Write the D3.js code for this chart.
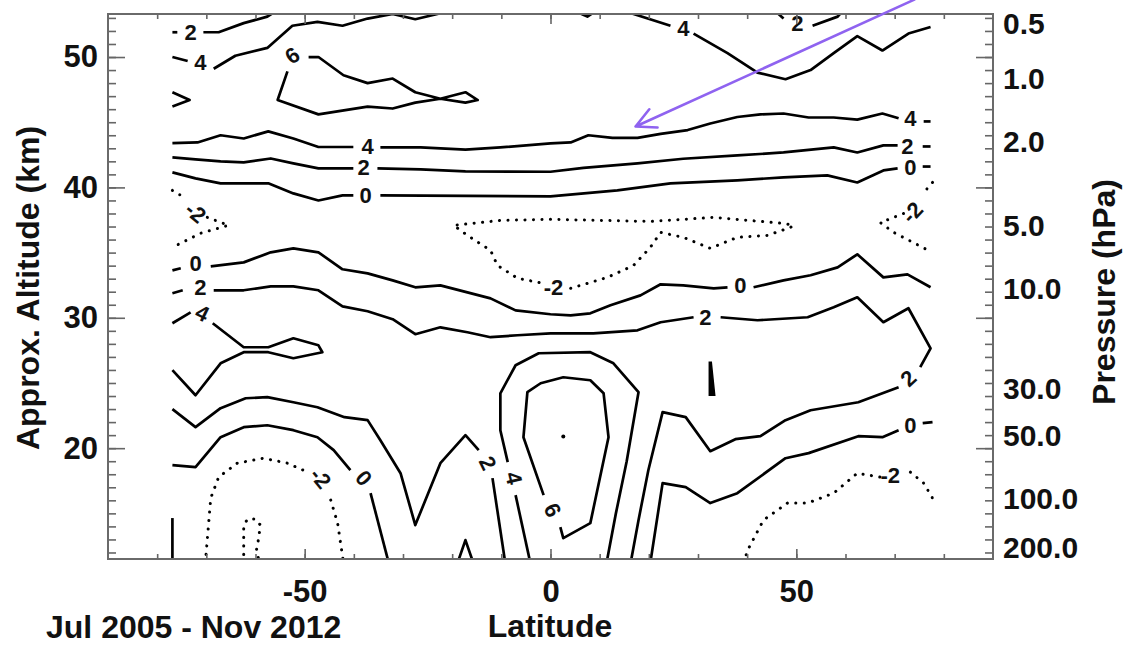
<!DOCTYPE html>
<html><head>
<meta charset="utf-8">
<title>Zonal mean contours, Jul 2005 - Nov 2012</title>
<script src="https://d3js.org/d3.v7.min.js"></script>
<style>
  body { margin: 0; background: #fff; }
  text { font-family: "Liberation Sans", Arial, sans-serif; font-weight: bold; fill: #111; }
</style>
</head>
<body>
<svg id="chart" width="1123" height="647"></svg>
<script>

// axis ticks
let altTicks = [20, 30, 40, 50];
let latTicks = [-50, 0, 50];
let pressureTicks = [0.5, 1.0, 2.0, 5.0, 10.0, 30.0, 50.0, 100.0, 200.0];

// contour lines as [lat, km]; each inner array is one piece, pieces break where a label sits
let c2Top = [
  [[-76.9,51.9],[-75.9,51.9]],
  [[-70.6,51.9],[-67.5,51.9],[-62.4,52.6],[-57.6,53.1],[-55.5,53.6]],
  [[45.5,53.6],[47.4,52.95]],
  [[53.3,52.4],[58.4,53.1],[59.6,53.6]]
];
let c2TopLabels = [[-73.2,51.9],[50.2,52.6]];

let c4Top = [
  [[-76.9,50.0],[-73.8,49.7]],
  [[-68.5,49.1],[-64.1,50.1],[-57.6,50.7],[-52.5,52.4],[-47.4,52.7],[-42.3,52.4],[-37.2,52.95],[-32.1,53.3],[-27.5,52.9],[-23.0,53.3],[-21.5,53.6]],
  [[4.5,53.6],[7.5,53.1],[9.5,53.6]],
  [[15.5,53.6],[16.9,53.3],[24.4,52.4]],
  [[29.1,51.8],[36.0,50.3],[42.1,48.8],[47.8,48.3],[52.9,49.0],[57.6,50.3],[62.4,51.6],[67.5,50.5],[72.8,51.8],[77.3,52.3]]
];
let c4TopLabels = [[-71.2,49.6],[27.0,52.2]];

let c6Top = [
  [[-49.2,50.0],[-47.2,50.0],[-42.1,48.6],[-37.2,48.0],[-32.1,48.35],[-27.5,47.3],[-22.4,46.8],[-17.3,47.3],[-14.8,46.7],[-17.3,46.5],[-22.4,46.8],[-27.5,46.5],[-32.1,46.05],[-37.2,46.2],[-47.2,45.6],[-55.5,46.7],[-53.5,48.9]]
];
let c6TopLabels = [[-52.5,50.1]];

let c6Edge = [[[-76.9,47.3],[-73.4,46.7],[-76.9,46.2]]];

let c4Mid = [
  [[-76.9,43.4],[-71.8,43.45],[-67.1,44.0],[-62.4,43.75],[-57.4,44.3],[-52.3,43.75],[-47.2,43.1],[-40.1,43.1]],
  [[-34.6,43.07],[-26.4,43.07],[-17.3,42.9],[-10.2,43.07],[0,43.37],[4.1,43.45],[7.7,44.0],[12.6,43.8],[17.7,43.8],[22.4,44.1],[27.9,44.4],[32.5,44.9],[38.0,45.4],[42.7,45.6],[47.4,45.67],[52.5,45.36],[57.6,45.36],[62.4,45.2],[67.5,45.67],[70.8,45.3]],
  [[75.9,45.06],[77.3,45.06]]
];
let c4MidLabels = [[-37.2,43.14],[73.2,45.29]];

let c2Mid = [
  [[-76.9,42.3],[-72.2,42.15],[-67.1,41.99],[-62.4,41.92],[-56.9,42.22],[-52.3,41.84],[-47.2,41.46],[-40.1,41.46]],
  [[-35.2,41.46],[-26.4,41.38],[-17.3,41.23],[0,41.2],[6.7,41.5],[17.7,41.84],[27.0,42.2],[38.0,42.45],[47.4,42.68],[57.6,43.07],[62.4,42.68],[67.7,43.22],[70.6,43.22]],
  [[75.7,43.14],[77.3,43.14]]
];
let c2MidLabels = [[-38.0,41.53],[72.6,43.14]];

let c0Mid = [
  [[-76.9,41.15],[-72.2,40.69],[-67.1,40.31],[-57.4,40.31],[-52.3,39.54],[-47.2,39.0],[-42.3,39.39],[-40.1,39.39]],
  [[-34.6,39.39],[0,39.31],[13.6,39.77],[24.4,40.31],[38.0,40.54],[47.4,40.77],[56.3,40.92],[62.4,40.38],[67.7,41.3],[70.6,41.46]],
  [[75.7,41.6],[77.3,41.6]]
];
let c0MidLabels = [[-37.6,39.39],[73.2,41.53]];

let cm2UpperLeft = [
  [[-76.9,39.77],[-75.2,39.39]],
  [[-69.8,37.7],[-65.5,37.09],[-71.2,36.48],[-76.9,35.4]]
];
let cm2UpperLeftLabels = [[-72.2,38.08]];

let cm2UpperRight = [
  [[77.7,40.38],[76.3,39.77]],
  [[71.8,38.0],[67.1,37.3],[69.8,36.55],[76.7,35.2]]
];
let cm2UpperRightLabels = [[73.6,38.08]];

let cm2Center = [
  [[4.1,32.26],[11.6,33.1],[16.9,34.02],[20.3,35.4],[22.4,36.55],[27.0,36.17],[32.5,35.33],[38.0,36.17],[44.1,36.32],[48.8,36.93],[49.4,37.09],[47.4,37.24],[33.2,37.7],[20.3,37.39],[0,37.55],[-10.2,37.47],[-19.7,37.09],[-16.9,36.32],[-12.2,35.17],[-10.8,34.02],[-6.7,33.03],[-1.4,32.64]]
];
let cm2CenterLabels = [[0.6,32.34]];

let c0Low = [
  [[-76.9,33.64],[-75.2,33.8]],
  [[-69.1,33.95],[-62.4,34.25],[-56.9,35.02],[-52.3,35.33],[-47.2,35.02],[-42.3,33.72],[-37.2,33.41],[-32.1,32.87],[-27.5,32.34],[-22.4,32.49],[-16.9,31.95],[-12.2,31.49],[-7.1,30.57],[0,30.27],[4.1,30.19],[8.1,30.34],[12.2,30.96],[18.3,31.72],[22.4,32.57],[27.0,32.49],[33.2,32.26],[36.0,32.34]],
  [[41.3,32.34],[47.4,32.87],[52.9,33.26],[58.4,33.87],[62.4,34.87],[67.7,33.1],[72.6,33.33],[77.3,32.34]]
];
let c0LowLabels = [[-72.2,34.18],[38.6,32.49]];

let c2Low = [
  [[-76.9,31.88],[-74.8,32.11]],
  [[-68.5,32.11],[-62.4,32.11],[-56.9,32.41],[-52.3,32.41],[-47.2,32.11],[-42.3,30.88],[-37.2,30.5],[-32.1,29.89],[-27.5,28.74],[-22.4,29.27],[-16.9,28.89],[-12.2,28.51],[-6.7,28.66],[0,28.81],[8.7,28.81],[17.7,29.04],[22.4,29.66],[29.1,30.04]],
  [[34.6,30.04],[42.1,29.81],[52.3,30.04],[57.6,30.8],[62.4,31.57],[67.7,29.66],[72.8,30.73],[77.3,27.66],[75.2,26.21]],
  [[70.8,24.67],[62.6,23.52],[52.9,22.91],[47.8,22.15],[42.7,20.92],[37.6,20.69],[32.5,19.77],[27.5,22.38],[22.8,22.76],[19.9,18.31],[17.9,14.48],[16.3,11.2]]
];
let c2LowLabels = [[-71.2,32.34],[31.5,30.04],[72.8,25.36]];

let c4Tongue = [
  [[-76.9,29.58],[-73.2,30.42]],
  [[-68.7,29.58],[-62.4,27.74],[-57.4,27.74],[-52.3,28.43],[-47.2,27.89],[-46.4,27.36],[-52.3,26.9],[-57.4,27.36],[-62.4,27.36],[-67.1,26.51],[-72.2,24.06],[-76.9,25.98]]
];
let c4TongueLabels = [[-70.8,30.34]];

let c2SouthWest = [
  [[-76.9,22.99],[-72.2,21.61],[-67.1,23.07],[-62.0,23.83],[-57.6,23.91],[-52.3,23.52],[-47.4,23.14],[-41.9,22.38],[-37.2,22.15],[-34.6,20.61],[-30.5,18.08],[-27.5,14.1],[-22.4,18.85],[-17.3,21.0],[-14.6,19.85]],
  [[-11.8,17.7],[-9.2,11.2]]
];
let c2SouthWestLabels = [[-12.8,18.85]];

let c0SouthWest = [
  [[-76.9,18.7],[-72.2,18.54],[-67.1,20.84],[-62.4,21.61],[-57.6,21.76],[-52.3,21.38],[-47.4,20.84],[-44.1,19.85],[-40.7,18.31]],
  [[-36.6,16.55],[-32.9,11.2]]
];
let c0SouthWestLabels = [[-38.0,17.7]];

let cm2SouthWest = [
  [[-70.2,11.2],[-69.1,16.17],[-67.5,17.78],[-63.7,18.85],[-58.4,19.23],[-53.5,18.85],[-49.4,18.16]],
  [[-44.7,16.02],[-43.3,14.25],[-42.1,11.2]]
];
let cm2SouthWestLabels = [[-46.8,17.7]];

let cm4Inner = [[[-62.4,11.2],[-62.4,14.1],[-61.6,14.56],[-60.0,14.56],[-59.0,14.1],[-59.4,13.0],[-59.8,12.2],[-59.2,11.2]]];
let cEdgeSouth = [[[-76.9,14.64],[-76.9,11.2]]];

let c4Arch = [
  [[-4.1,11.2],[-7.1,16.4]],
  [[-8.7,18.93],[-10.2,21.38],[-10.2,24.21],[-7.1,26.36],[-2.4,27.28],[8.1,27.36],[12.8,26.51],[17.9,24.29],[15.5,19.0],[13.3,15.0],[11.4,11.2]]
];
let c4ArchLabels = [[-7.5,17.7]];

let c6Core = [
  [[2.0,13.95],[2.6,13.1],[8.1,14.25],[11.8,20.84],[10.8,24.21],[8.1,25.21],[2.6,25.44],[-2.0,24.98],[-4.7,24.29],[-5.5,20.84],[-1.4,16.4]]
];
let c6CoreLabels = [[0.4,15.25]];

let c8Dot = [[2.6,20.9]];
let c4Bump = [[[-18.9,11.2],[-17.3,12.95],[-15.7,11.2]]];

let c0SouthEast = [
  [[75.7,21.92],[77.7,22.0]],
  [[70.8,21.38],[67.5,20.84],[62.6,20.92],[52.5,19.62],[47.8,19.23],[38.0,16.55],[32.5,15.79],[27.5,17.01],[22.8,17.32],[20.3,11.2]]
];
let c0SouthEastLabels = [[73.2,21.76]];

let cm2SouthEast = [
  [[39.3,11.2],[40.1,12.18],[43.3,14.48],[48.2,15.79],[52.3,15.79],[57.6,16.55],[62.4,18.08],[67.1,17.78]],
  [[73.2,18.16],[75.9,17.32],[77.7,16.17]]
];
let cm2SouthEastLabels = [[69.1,17.93]];

let c4Sliver = [[32.3,26.59],[32.7,26.59],[33.4,24.06],[32.3,24.06]];

// annotation arrow, [lat, km]
let arrowFrom = [74.0, 54.4];
let arrowTo = [17.3, 44.67];

let contours = [
  {level: 2, dotted: false, pieces: c2Top, labels: c2TopLabels},
  {level: 4, dotted: false, pieces: c4Top, labels: c4TopLabels},
  {level: 6, dotted: false, pieces: c6Top, labels: c6TopLabels},
  {level: 6, dotted: false, pieces: c6Edge, labels: []},
  {level: 4, dotted: false, pieces: c4Mid, labels: c4MidLabels},
  {level: 2, dotted: false, pieces: c2Mid, labels: c2MidLabels},
  {level: 0, dotted: false, pieces: c0Mid, labels: c0MidLabels},
  {level: -2, dotted: true, pieces: cm2UpperLeft, labels: cm2UpperLeftLabels},
  {level: -2, dotted: true, pieces: cm2UpperRight, labels: cm2UpperRightLabels},
  {level: -2, dotted: true, pieces: cm2Center, labels: cm2CenterLabels},
  {level: 0, dotted: false, pieces: c0Low, labels: c0LowLabels},
  {level: 2, dotted: false, pieces: c2Low, labels: c2LowLabels},
  {level: 4, dotted: false, pieces: c4Tongue, labels: c4TongueLabels},
  {level: 2, dotted: false, pieces: c2SouthWest, labels: c2SouthWestLabels},
  {level: 0, dotted: false, pieces: c0SouthWest, labels: c0SouthWestLabels},
  {level: -2, dotted: true, pieces: cm2SouthWest, labels: cm2SouthWestLabels},
  {level: -4, dotted: true, pieces: cm4Inner, labels: []},
  {level: 4, dotted: false, pieces: cEdgeSouth, labels: []},
  {level: 4, dotted: false, pieces: c4Arch, labels: c4ArchLabels},
  {level: 6, dotted: false, pieces: c6Core, labels: c6CoreLabels},
  {level: 4, dotted: false, pieces: c4Bump, labels: []},
  {level: 0, dotted: false, pieces: c0SouthEast, labels: c0SouthEastLabels},
  {level: -2, dotted: true, pieces: cm2SouthEast, labels: cm2SouthEastLabels}
];

let svg = d3.select("#chart");
let plotLeft = 108, plotRight = 993, plotTop = 14, plotBottom = 559;
let x = d3.scaleLinear().domain([-90, 90]).range([plotLeft, plotRight]);
let y = d3.scaleLinear().domain([11.5, 53.3]).range([plotBottom, plotTop]);
let line = d3.line().x(d => x(d[0])).y(d => y(d[1]));

svg.append("clipPath").attr("id", "plotArea")
  .append("rect").attr("x", plotLeft).attr("y", plotTop)
  .attr("width", plotRight - plotLeft).attr("height", plotBottom - plotTop);

let plot = svg.append("g").attr("clip-path", "url(#plotArea)");

contours.forEach(c => {
  c.pieces.forEach(p => {
    plot.append("path")
      .attr("d", line(p))
      .attr("fill", "none")
      .attr("stroke", "#000")
      .attr("stroke-width", c.dotted ? 3 : 2.7)
      .attr("stroke-dasharray", c.dotted ? "0.1 8.4" : null)
      .attr("stroke-linecap", c.dotted ? "round" : "butt")
      .attr("stroke-linejoin", "round");
  });

  // rotate each label along the gap it sits in
  let ends = [];
  c.pieces.forEach(p => {
    ends.push([x(p[0][0]), y(p[0][1])]);
    ends.push([x(p[p.length - 1][0]), y(p[p.length - 1][1])]);
  });
  c.labels.forEach(l => {
    let lx = x(l[0]), ly = y(l[1]);
    let near = ends.slice().sort((a, b) =>
      Math.hypot(a[0] - lx, a[1] - ly) - Math.hypot(b[0] - lx, b[1] - ly));
    let a = near[0], b = near[1];
    let ang = Math.atan2(b[1] - a[1], b[0] - a[0]) * 180 / Math.PI;
    if (ang > 90) ang -= 180;
    if (ang < -90) ang += 180;
    if (Math.abs(ang) < 25) ang = 0;
    plot.append("text")
      .attr("transform", "translate(" + lx + "," + ly + ") rotate(" + ang + ")")
      .attr("text-anchor", "middle")
      .attr("dominant-baseline", "central")
      .style("font-size", "22px")
      .text(String(c.level));
  });
});

plot.selectAll(".dot").data(c8Dot).enter().append("circle")
  .attr("cx", d => x(d[0])).attr("cy", d => y(d[1])).attr("r", 2).attr("fill", "#000");

plot.append("path").attr("d", line(c4Sliver) + "Z").attr("fill", "#000").attr("stroke", "#000").attr("stroke-width", 1.5);

// frame and inward ticks
function styleAxis(g) {
  g.select(".domain").remove();
  g.selectAll(".tick line").attr("stroke", "#666").attr("stroke-width", 1.6);
  g.selectAll(".tick text").style("font-size", "31px").attr("fill", "#111");
}

svg.append("g").attr("transform", "translate(" + plotLeft + ",0)")
  .call(d3.axisLeft(y).tickValues(d3.range(12, 54)).tickSize(-8).tickFormat("")).call(styleAxis);
svg.append("g").attr("transform", "translate(" + plotLeft + ",0)")
  .call(d3.axisLeft(y).tickValues(altTicks).tickSize(-17).tickPadding(10).tickFormat(d => String(d))).call(styleAxis);
svg.append("g").attr("transform", "translate(" + plotRight + ",0)")
  .call(d3.axisRight(y).tickValues(d3.range(12, 54)).tickSize(-8).tickFormat("")).call(styleAxis);
svg.append("g").attr("transform", "translate(" + plotRight + ",0)")
  .call(d3.axisRight(y).tickValues(altTicks).tickSize(-17).tickFormat("")).call(styleAxis);
svg.append("g").attr("transform", "translate(0," + plotBottom + ")")
  .call(d3.axisBottom(x).tickValues(d3.range(-80, 81, 10)).tickSize(-5).tickFormat("")).call(styleAxis);
svg.append("g").attr("transform", "translate(0," + plotBottom + ")")
  .call(d3.axisBottom(x).tickValues(latTicks).tickSize(-10).tickPadding(21).tickFormat(d => String(d))).call(styleAxis);
svg.append("g").attr("transform", "translate(0," + plotTop + ")")
  .call(d3.axisTop(x).tickValues(d3.range(-80, 81, 10)).tickSize(-5).tickFormat("")).call(styleAxis);
svg.append("g").attr("transform", "translate(0," + plotTop + ")")
  .call(d3.axisTop(x).tickValues(latTicks).tickSize(-10).tickFormat("")).call(styleAxis);

svg.append("rect")
  .attr("x", plotLeft).attr("y", plotTop)
  .attr("width", plotRight - plotLeft).attr("height", plotBottom - plotTop)
  .attr("fill", "none").attr("stroke", "#6a6a6a").attr("stroke-width", 2);

// pressure labels on the right, log-pressure altitude with a 7 km scale height
svg.selectAll(".plabel").data(pressureTicks).enter().append("text")
  .attr("x", plotRight + 10)
  .attr("y", p => Math.max(23, Math.min(547, y(7 * Math.log(1000 / p)))))
  .attr("dominant-baseline", "central")
  .style("font-size", "30px")
  .text(p => p.toFixed(1));

svg.append("text")
  .attr("transform", "translate(39,288) rotate(-90)")
  .attr("text-anchor", "middle")
  .style("font-size", "32px")
  .text("Approx. Altitude (km)");

svg.append("text")
  .attr("transform", "translate(1115,292) rotate(-90)")
  .attr("text-anchor", "middle")
  .style("font-size", "32px")
  .text("Pressure (hPa)");

svg.append("text")
  .attr("x", 550).attr("y", 637)
  .attr("text-anchor", "middle")
  .style("font-size", "32px")
  .text("Latitude");

svg.append("text")
  .attr("x", 46).attr("y", 638)
  .style("font-size", "32px")
  .text("Jul 2005 - Nov 2012");

// annotation arrow
let ax0 = x(arrowFrom[0]), ay0 = y(arrowFrom[1]);
let ax1 = x(arrowTo[0]), ay1 = y(arrowTo[1]);
let back = Math.atan2(ay0 - ay1, ax0 - ax1);
let arm = 22, spread = 27 * Math.PI / 180;
let arrowPath = "M" + ax0 + "," + ay0 + "L" + ax1 + "," + ay1 +
  "M" + (ax1 + arm * Math.cos(back - spread)) + "," + (ay1 + arm * Math.sin(back - spread)) +
  "L" + ax1 + "," + ay1 +
  "L" + (ax1 + arm * Math.cos(back + spread)) + "," + (ay1 + arm * Math.sin(back + spread));
svg.append("path")
  .attr("d", arrowPath)
  .attr("fill", "none")
  .attr("stroke", "#8f63f0")
  .attr("stroke-width", 2.6)
  .attr("stroke-linecap", "round")
  .attr("stroke-linejoin", "round");

</script>
</body>
</html>
